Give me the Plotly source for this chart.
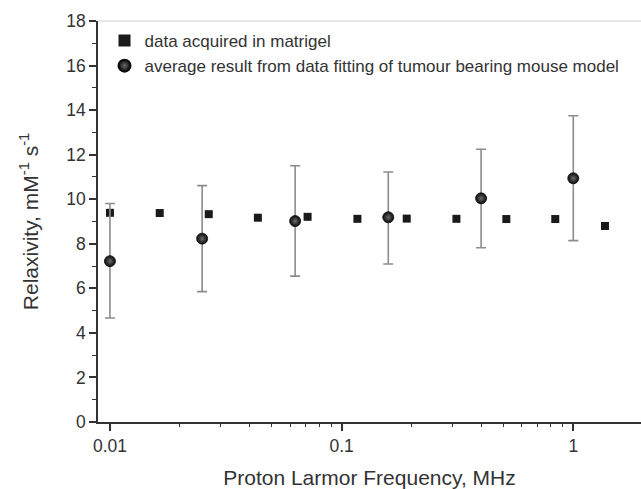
import plotly.graph_objects as go
import numpy as np

# matrigel data
matrigel_freq = [0.01, 0.0164, 0.0267, 0.0435, 0.0713, 0.117, 0.191, 0.313, 0.514, 0.836, 1.37]
matrigel_r1 = [9.39, 9.38, 9.33, 9.17, 9.21, 9.12, 9.13, 9.12, 9.11, 9.11, 8.80]

# tumour-bearing mouse model
mouse_freq = [0.01, 0.025, 0.063, 0.159, 0.40, 1.0]
mouse_r1 = [7.22, 8.23, 9.02, 9.19, 10.04, 10.94]
mouse_err_plus = [2.59, 2.38, 2.48, 2.03, 2.20, 2.81]
mouse_err_minus = [2.55, 2.38, 2.47, 2.10, 2.22, 2.80]

font = "Liberation Sans, Arial, sans-serif"
ink = "#333333"

fig = go.Figure()
fig.add_trace(go.Scatter(
    x=matrigel_freq, y=matrigel_r1, mode="markers",
    name="data acquired in matrigel",
    marker=dict(symbol="square", size=8, color="#1a1a1a"),
))
fig.add_trace(go.Scatter(
    x=mouse_freq, y=mouse_r1, mode="markers",
    name="average result from data fitting of tumour bearing mouse model",
    marker=dict(symbol="circle", size=11, color="#0a0a0a",
                gradient=dict(type="radial", color="#6a6a6a"),
                line=dict(width=0.8, color="#0a0a0a")),
    error_y=dict(type="data", symmetric=False, array=mouse_err_plus,
                 arrayminus=mouse_err_minus, color="#8c8c8c",
                 thickness=1.6, width=5),
))

fig.update_layout(
    width=641, height=489,
    margin=dict(l=98, r=0, t=21, b=67),
    paper_bgcolor="white", plot_bgcolor="white",
    font=dict(family=font, size=17, color=ink),
    showlegend=True,
    legend=dict(x=0.012, y=0.995, xanchor="left", yanchor="top",
                bgcolor="rgba(0,0,0,0)", font=dict(size=17, color=ink),
                itemsizing="constant", tracegroupgap=0),
    xaxis=dict(
        type="log", range=[np.log10(0.00888), np.log10(1.96)],
        tickvals=[0.01, 0.1, 1], ticktext=["0.01", "0.1", "1"],
        ticks="outside", ticklen=7, tickwidth=1.5, tickcolor=ink,
        tickfont=dict(size=17.5, color=ink),
        showline=True, linecolor=ink, linewidth=1.5,
        showgrid=False, zeroline=False,
        minor=dict(tickvals=[k * 10 ** e for e in (-2, -1, 0) for k in range(2, 10)],
                   ticks="outside", ticklen=3, tickwidth=1.3, tickcolor=ink, showgrid=False),
        title=dict(text="Proton Larmor Frequency, MHz", font=dict(size=21, color=ink), standoff=20),
    ),
    yaxis=dict(
        range=[0, 18], tick0=0, dtick=2,
        ticks="outside", ticklen=7, tickwidth=1.5, tickcolor=ink,
        tickfont=dict(size=17.5, color=ink),
        showline=True, linecolor=ink, linewidth=1.5,
        showgrid=False, zeroline=False,
        minor=dict(dtick=1, ticks="outside", ticklen=4, tickwidth=1.3, tickcolor=ink, showgrid=False),
        title=dict(text="Relaxivity, mM<sup>-1</sup> s<sup>-1</sup>", font=dict(size=21, color=ink), standoff=22),
    ),
)
# light top frame line
fig.add_shape(type="line", xref="paper", yref="paper", x0=0, x1=1, y0=1, y1=1,
              line=dict(color="#cccccc", width=1))

# remove the default page margin so the figure sits at the window origin
fig.write_html("out.html", config={"displayModeBar": False},
               post_script="document.body.style.margin='0';")
